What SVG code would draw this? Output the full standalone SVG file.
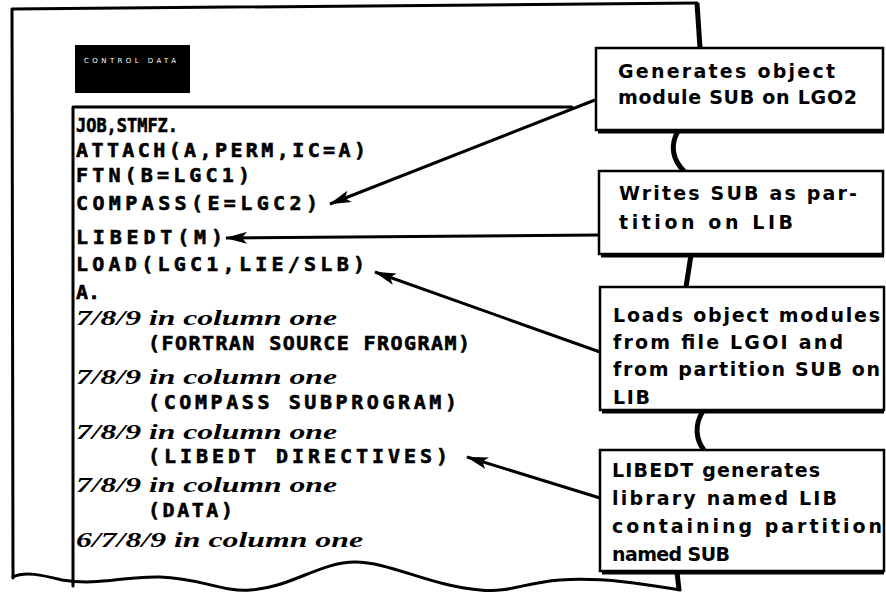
<svg xmlns="http://www.w3.org/2000/svg" width="886" height="597" viewBox="0 0 886 597">
  <style>
    .edge { fill: none; stroke: #000; stroke-width: 3; stroke-linecap: round; stroke-linejoin: round; }
    .thick { fill: none; stroke: #000; stroke-width: 5; stroke-linecap: butt; }
    .code { font-family: "DejaVu Sans Mono", "Liberation Mono", monospace; font-weight: bold; font-size: 20px; fill: #000; stroke: #000; stroke-width: 0.6; }
    .script { font-family: "Liberation Serif", "DejaVu Serif", serif; font-weight: bold; font-style: italic; font-size: 22px; fill: #000; }
    .note { font-family: "DejaVu Sans", "Liberation Sans", sans-serif; font-weight: bold; font-size: 19px; fill: #000; }
    .box { fill: #fff; stroke: #000; stroke-width: 2.5; }
    .shadow { fill: none; stroke: #000; stroke-width: 3; }
    .arrow { fill: none; stroke: #000; stroke-width: 3; marker-end: url(#ah); }
  </style>
  <defs>
    <marker id="ah" viewBox="0 0 22 12" refX="21" refY="6" markerWidth="22" markerHeight="12" markerUnits="userSpaceOnUse" orient="auto">
      <path d="M0,0 L22,6 L0,12 L5,6 z" fill="#000"/>
    </marker>
  </defs>
  <rect width="886" height="597" fill="#fff"/>

  <!-- punched job deck sheet -->
  <g id="job-deck">
    <path class="edge" d="M13,578 L12,9 L697,3"/>
    <path class="edge" d="M73,586 L73,107 L572,107"/>
    <path class="edge" d="M13,577 C25,571 42,575 62,580 C100,586 122,576 160,577 C200,578 222,592 250,590 C290,588 320,562 355,562 C390,562 430,586 480,590 C510,593 522,583 560,580 C605,577 650,585 680,590"/>
    <g id="logo">
      <rect x="75" y="45" width="115" height="48" fill="#000"/>
      <text x="84" y="63" font-family="DejaVu Sans, sans-serif" font-size="7" fill="#fff" textLength="92" lengthAdjust="spacing">CONTROL DATA</text>
    </g>
    <g id="listing">
      <text class="code" x="76" y="132" textLength="102" lengthAdjust="spacingAndGlyphs">JOB,STMFZ.</text>
      <text class="code" x="76" y="157" textLength="290" lengthAdjust="spacing">ATTACH(A,PERM,IC=A)</text>
      <text class="code" x="76" y="182" textLength="174" lengthAdjust="spacing">FTN(B=LGC1)</text>
      <text class="code" x="76" y="210" textLength="242" lengthAdjust="spacing">COMPASS(E=LGC2)</text>
      <text class="code" x="76" y="244" textLength="147" lengthAdjust="spacing">LIBEDT(M)</text>
      <text class="code" x="76" y="271" textLength="289" lengthAdjust="spacing">LOAD(LGC1,LIE/SLB)</text>
      <text class="code" x="76" y="299" textLength="24" lengthAdjust="spacing">A.</text>
      <text class="script" x="76" y="325" textLength="261" lengthAdjust="spacingAndGlyphs">7/8/9 in column one</text>
      <text class="code" x="148" y="350" textLength="322" lengthAdjust="spacing">(FORTRAN SOURCE FROGRAM)</text>
      <text class="script" x="76" y="384" textLength="261" lengthAdjust="spacingAndGlyphs">7/8/9 in column one</text>
      <text class="code" x="148" y="409" textLength="309" lengthAdjust="spacing">(COMPASS SUBPROGRAM)</text>
      <text class="script" x="76" y="439" textLength="261" lengthAdjust="spacingAndGlyphs">7/8/9 in column one</text>
      <text class="code" x="148" y="463" textLength="300" lengthAdjust="spacing">(LIBEDT DIRECTIVES)</text>
      <text class="script" x="76" y="492" textLength="261" lengthAdjust="spacingAndGlyphs">7/8/9 in column one</text>
      <text class="code" x="148" y="517" textLength="85" lengthAdjust="spacing">(DATA)</text>
      <text class="script" x="76" y="547" textLength="287" lengthAdjust="spacingAndGlyphs">6/7/8/9 in column one</text>
    </g>
    <!-- torn right-hand edge of the sheet, visible between the notes -->
    <g id="sheet-edge">
      <path class="thick" d="M697,3 L700,48"/>
      <path class="thick" d="M678,131 C670,145 672,160 685,172"/>
      <path class="thick" d="M691,255 L686,287"/>
      <path class="thick" d="M703,411 C694,425 696,440 704,450"/>
      <path class="thick" d="M677,572 L679,590"/>
    </g>
  </g>

  <!-- callout notes -->
  <g id="note-compass">
    <rect class="box" x="596" y="48" width="287" height="82"/>
    <path class="shadow" d="M598,132 L884,132"/>
    <text class="note" x="618" y="78" textLength="217" lengthAdjust="spacing">Generates object</text>
    <text class="note" x="618" y="104" textLength="239" lengthAdjust="spacing">module SUB on LGO2</text>
  </g>
  <g id="note-libedt">
    <rect class="box" x="599" y="171" width="284" height="83"/>
    <path class="shadow" d="M601,256 L884,256"/>
    <text class="note" x="619" y="200" textLength="238" lengthAdjust="spacing">Writes SUB as par-</text>
    <text class="note" x="619" y="229" textLength="174" lengthAdjust="spacing">tition on LIB</text>
  </g>
  <g id="note-load">
    <rect class="box" x="600" y="287" width="284" height="123"/>
    <path class="shadow" d="M602,412 L884,412"/>
    <text class="note" x="613" y="322" textLength="267" lengthAdjust="spacing">Loads object modules</text>
    <text class="note" x="613" y="349" textLength="230" lengthAdjust="spacing">from file LGOI and</text>
    <text class="note" x="613" y="376" textLength="267" lengthAdjust="spacing">from partition SUB on</text>
    <text class="note" x="613" y="404" textLength="37" lengthAdjust="spacing">LIB</text>
  </g>
  <g id="note-library">
    <rect class="box" x="600" y="450" width="284" height="121"/>
    <path class="shadow" d="M602,573 L884,573"/>
    <text class="note" x="612" y="477" textLength="208" lengthAdjust="spacing">LIBEDT generates</text>
    <text class="note" x="612" y="505" textLength="225" lengthAdjust="spacing">library named LIB</text>
    <text class="note" x="612" y="533" textLength="270" lengthAdjust="spacing">containing partition</text>
    <text class="note" x="612" y="561" textLength="118" lengthAdjust="spacing">named SUB</text>
  </g>

  <!-- pointers from the notes to the control cards -->
  <g id="connectors">
    <path class="arrow" d="M595,100 L330,204"/>
    <path class="arrow" d="M599,235 L226,238"/>
    <path class="arrow" d="M600,352 L375,272"/>
    <path class="arrow" d="M600,498 L467,457"/>
  </g>
</svg>
